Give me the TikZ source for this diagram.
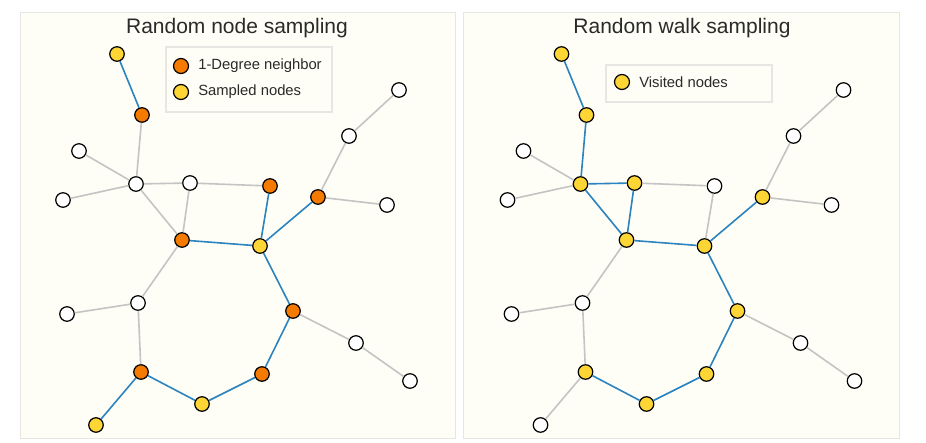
\documentclass[tikz,border=0pt]{standalone}
\usepackage{fontspec}
\setmainfont{Liberation Sans}
\usetikzlibrary{positioning}

\definecolor{panelbg}{HTML}{FEFEF6}
\definecolor{panelline}{HTML}{E6E6E2}
\definecolor{walkblue}{HTML}{2B83C0}
\definecolor{hoporange}{HTML}{F57A00}
\definecolor{sampyellow}{HTML}{FDD535}
\definecolor{edgegray}{HTML}{C4C4C4}
\definecolor{textgray}{HTML}{2A2A2A}

\tikzset{
  vert/.style={circle, draw=black, line width=1.2pt, minimum size=14.5pt, inner sep=0pt, fill=white},
  hop/.style={vert, fill=hoporange},
  samp/.style={vert, fill=sampyellow},
  plain/.style={draw=edgegray, line width=1.6pt},
  walk/.style={draw=walkblue, line width=1.6pt},
  panel/.style={fill=panelbg, draw=panelline, line width=1pt},
  legbox/.style={draw=panelline, line width=1.5pt},
  title/.style={font=\fontsize{21}{24}\selectfont, text=textgray},
  legtext/.style={font=\fontsize{14.8}{17}\selectfont, text=textgray, anchor=west, inner sep=0pt}
}

\begin{document}
\begin{tikzpicture}[x=1pt, y=-1pt]
  \useasboundingbox (0,0) rectangle (926,443);
  \fill[white] (0,0) rectangle (926,443);

  % left panel: random node sampling
  \path[panel] (20,13) rectangle (455,438);
  \node[title] (t1) at (237,28) {Random node sampling};
  \path[legbox] (166,47) rectangle (332,112);
  \node[hop, minimum size=15pt] (k1) at (181,66) {};
  \node[legtext] (k1t) [right=9pt of k1] {1-Degree neighbor};
  \node[samp, minimum size=15pt] (k2) at (181,92) {};
  \node[legtext] (k2t) [right=9pt of k2] {Sampled nodes};

  \node[samp] (a) at (117,54) {};
  \node[hop] (b) at (142,115) {};
  \node[vert] (c) at (79,151) {};
  \node[vert] (d) at (136,184) {};
  \node[vert] (e) at (63,200) {};
  \node[vert] (f) at (190,183) {};
  \node[hop] (g) at (270,186) {};
  \node[hop] (h) at (182,240) {};
  \node[samp] (i) at (260,246) {};
  \node[hop] (j) at (318,197) {};
  \node[vert] (k) at (349,136) {};
  \node[vert] (l) at (399,90) {};
  \node[vert] (m) at (387,205) {};
  \node[vert] (n) at (138,303) {};
  \node[vert] (o) at (67,314) {};
  \node[hop] (p) at (293,311) {};
  \node[vert] (q) at (356,343) {};
  \node[vert] (r) at (410,381) {};
  \node[hop] (s) at (141,372) {};
  \node[samp] (t) at (202,404) {};
  \node[hop] (u) at (262,374) {};
  \node[samp] (v) at (96,425) {};

  \path[plain] (b) -- (d) (c) -- (d) (e) -- (d) (d) -- (f) (d) -- (h)
    (f) -- (g) (f) -- (h) (j) -- (k) (k) -- (l) (j) -- (m)
    (h) -- (n) (n) -- (o) (n) -- (s) (p) -- (q) (q) -- (r);
  \path[walk] (a) -- (b) (g) -- (i) (h) -- (i) (i) -- (j) (i) -- (p)
    (p) -- (u) (u) -- (t) (t) -- (s) (s) -- (v);

  % right panel: random walk sampling
  \path[panel] (463,13) rectangle (899,438);
  \node[title] (t2) at (682,28) {Random walk sampling};
  \path[legbox] (606,65) rectangle (772,102);
  \node[samp, minimum size=15pt] (k3) at (622,82) {};
  \node[legtext] (k3t) [right=9pt of k3] {Visited nodes};

  \begin{scope}[xshift=444.5pt]
  \node[samp] (ra) at (117,54) {};
  \node[samp] (rb) at (142,115) {};
  \node[vert] (rc) at (79,151) {};
  \node[samp] (rd) at (136,184) {};
  \node[vert] (re) at (63,200) {};
  \node[samp] (rf) at (190,183) {};
  \node[vert] (rg) at (270,186) {};
  \node[samp] (rh) at (182,240) {};
  \node[samp] (ri) at (260,246) {};
  \node[samp] (rj) at (318,197) {};
  \node[vert] (rk) at (349,136) {};
  \node[vert] (rl) at (399,90) {};
  \node[vert] (rm) at (387,205) {};
  \node[vert] (rn) at (138,303) {};
  \node[vert] (ro) at (67,314) {};
  \node[samp] (rp) at (293,311) {};
  \node[vert] (rq) at (356,343) {};
  \node[vert] (rr) at (410,381) {};
  \node[samp] (rs) at (141,372) {};
  \node[samp] (rt) at (202,404) {};
  \node[samp] (ru) at (262,374) {};
  \node[vert] (rv) at (96,425) {};
  \end{scope}

  \path[plain] (rc) -- (rd) (re) -- (rd) (rf) -- (rg) (rg) -- (ri)
    (rj) -- (rk) (rk) -- (rl) (rj) -- (rm) (rh) -- (rn) (rn) -- (ro)
    (rn) -- (rs) (rp) -- (rq) (rq) -- (rr) (rs) -- (rv);
  \path[walk] (ra) -- (rb) (rb) -- (rd) (rd) -- (rf) (rd) -- (rh)
    (rf) -- (rh) (rh) -- (ri) (ri) -- (rj) (ri) -- (rp)
    (rp) -- (ru) (ru) -- (rt) (rt) -- (rs);
\end{tikzpicture}
\end{document}
